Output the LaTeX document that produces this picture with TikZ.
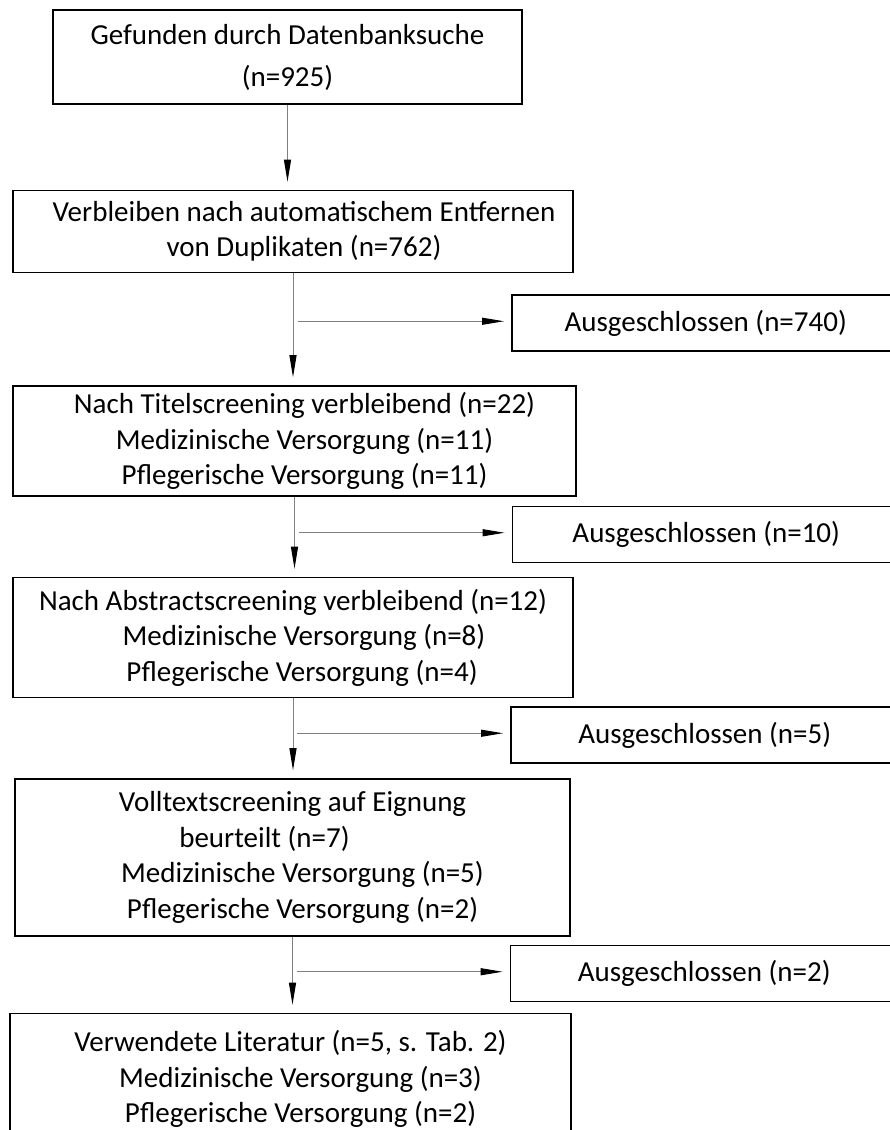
\documentclass[tikz,border=0pt]{standalone}
\usepackage{fontspec}
\setmainfont{Carlito}
\usetikzlibrary{arrows.meta, positioning}
\newcommand{\indt}[1]{\rule{#1}{0pt}}

\begin{document}
\begin{tikzpicture}[
  x=1pt, y=1pt,
  box/.style={rectangle, draw, line width=1.5pt, align=center, inner sep=0pt,
    font=\fontsize{29}{35.5}\selectfont},
  excl/.style={box, minimum width=388pt, minimum height=56pt},
  edge/.style={-{Triangle[length=22pt, width=7pt, black]}, gray, line width=1pt, shorten >=8pt}
]
\useasboundingbox (0,0) rectangle (890,1130);
\clip (0,0) rectangle (890,1130);

\node[box, minimum width=469pt, minimum height=94pt] (found) at (287.5,1073)
  {Gefunden durch Datenbanksuche\\[6.5pt](n=925)};
\node[box, minimum width=560pt, minimum height=82pt, below=85pt of found, xshift=5.5pt] (dedup)
  {\indt{22pt}Verbleiben nach automatischem Entfernen\\\indt{22pt}von Duplikaten (n=762)};
\node[box, minimum width=563pt, minimum height=110pt, below=112pt of dedup, xshift=1.5pt] (title)
  {\indt{20pt}Nach Titelscreening verbleibend (n=22)\\\indt{20pt}Medizinische Versorgung (n=11)\\\indt{20pt}Pflegerische Versorgung (n=11)};
\node[box, minimum width=560pt, minimum height=120pt, below=80pt of title, xshift=-1.5pt] (abstract)
  {Nach Abstractscreening verbleibend (n=12)\\\indt{22pt}Medizinische Versorgung (n=8)\\\indt{18pt}Pflegerische Versorgung (n=4)};
\node[box, minimum width=555pt, minimum height=157pt, below=80pt of abstract, xshift=-0.5pt] (fulltext)
  {Volltextscreening auf Eignung\\beurteilt (n=7)\indt{56pt}\\\indt{20pt}Medizinische Versorgung (n=5)\\\indt{20pt}Pflegerische Versorgung (n=2)};
\node[box, minimum width=561pt, minimum height=131pt, below=76pt of fulltext, xshift=-2pt] (used)
  {Verwendete Literatur (n=5, s. Tab. 2)\\\indt{20pt}Medizinische Versorgung (n=3)\\\indt{20pt}Pflegerische Versorgung (n=2)};

% Abzweigungen zu den Ausschluessen
\coordinate[below right=48pt and 5pt of dedup.south] (cut1);
\coordinate[below right=36pt and 4pt of title.south] (cut2);
\coordinate[below right=35pt and 4pt of abstract.south] (cut3);
\coordinate[below right=35pt and 4pt of fulltext.south] (cut4);

\node[excl, right=213pt of cut1, yshift=-2pt] (out1) {Ausgeschlossen (n=740)};
\node[excl, right=213pt of cut2, yshift=-2pt] (out2) {Ausgeschlossen (n=10)};
\node[excl, right=213pt of cut3, yshift=-2pt] (out3) {Ausgeschlossen (n=5)};
\node[excl, right=213pt of cut4, yshift=-2pt] (out4) {Ausgeschlossen (n=2)};

\draw[edge] (found.south) -- (found.south |- dedup.north);
\draw[edge] (dedup.south) -- (dedup.south |- title.north);
\draw[edge] (title.south) -- (title.south |- abstract.north);
\draw[edge] (abstract.south) -- (abstract.south |- fulltext.north);
\draw[edge] (fulltext.south) -- (fulltext.south |- used.north);

\draw[edge, shorten >=7pt] (cut1) -- (cut1 -| out1.west);
\draw[edge, shorten >=7pt] (cut2) -- (cut2 -| out2.west);
\draw[edge, shorten >=7pt] (cut3) -- (cut3 -| out3.west);
\draw[edge, shorten >=7pt] (cut4) -- (cut4 -| out4.west);
\end{tikzpicture}
\end{document}
